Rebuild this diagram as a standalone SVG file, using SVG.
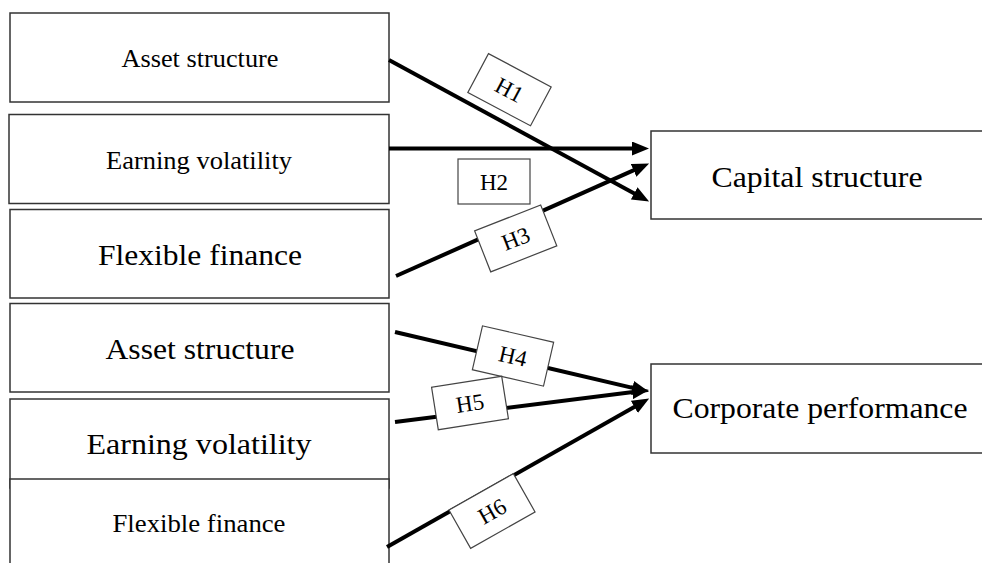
<svg xmlns="http://www.w3.org/2000/svg" width="982" height="563" viewBox="0 0 982 563">
<style>
.box{fill:#fff;stroke:#333;stroke-width:1.5}
.lbl{fill:#fff;stroke:#444;stroke-width:1.2}
.t{font-family:"Liberation Serif","Times New Roman",serif;fill:#000;text-anchor:middle}
.s{font-size:25px}
.b{font-size:29.5px}
.h{font-size:23px}
.c{stroke:#000;stroke-width:4;fill:none;marker-end:url(#ah)}
</style>
<defs>
<marker id="ah" markerUnits="userSpaceOnUse" markerWidth="17" markerHeight="14" refX="9" refY="7" orient="auto">
<path d="M0,0 L17,7 L0,14 z" fill="#000"/>
</marker>
</defs>
<rect width="982" height="563" fill="#fff"/>
<g id="n1"><rect class="box" x="10" y="13" width="379" height="89"/><text class="t s" x="200" y="67" textLength="157" lengthAdjust="spacingAndGlyphs">Asset structure</text></g>
<g id="n2"><rect class="box" x="9" y="114.5" width="380" height="89"/><text class="t s" x="199" y="169" textLength="186" lengthAdjust="spacingAndGlyphs">Earning volatility</text></g>
<g id="n3"><rect class="box" x="10" y="209.5" width="379" height="88.5"/><text class="t b" x="200" y="265" textLength="204" lengthAdjust="spacingAndGlyphs">Flexible finance</text></g>
<g id="n4"><rect class="box" x="10" y="303.5" width="379" height="88.5"/><text class="t b" x="200" y="359" textLength="189" lengthAdjust="spacingAndGlyphs">Asset structure</text></g>
<g id="n5"><rect class="box" x="10" y="399" width="379" height="89"/><text class="t b" x="199" y="454" textLength="225" lengthAdjust="spacingAndGlyphs">Earning volatility</text></g>
<g id="n6"><rect class="box" x="10" y="479" width="379" height="100"/><text class="t s" x="199" y="532" textLength="173" lengthAdjust="spacingAndGlyphs">Flexible finance</text></g>
<g id="n7"><rect class="box" x="651" y="131" width="340" height="88"/><text class="t b" x="817" y="187" textLength="211" lengthAdjust="spacingAndGlyphs">Capital structure</text></g>
<g id="n8"><rect class="box" x="651" y="364" width="340" height="89"/><text class="t b" x="820" y="418" textLength="295" lengthAdjust="spacingAndGlyphs">Corporate performance</text></g>
<g id="connectors">
<line class="c" x1="389" y1="60" x2="642.1" y2="197.7"/>
<line class="c" x1="389" y1="148.5" x2="641" y2="148.5"/>
<line class="c" x1="396" y1="276" x2="641.8" y2="166.7"/>
<line class="c" x1="395" y1="332" x2="641.2" y2="389.9"/>
<line class="c" x1="395" y1="422" x2="641.1" y2="391.1"/>
<line class="c" x1="387" y1="547" x2="642.2" y2="402.4"/>
</g>
<g id="lH1" transform="translate(509.5,89.7) rotate(28)"><rect class="lbl" x="-35.5" y="-22" width="71" height="44"/><text class="t h" x="0" y="8">H1</text></g>
<g id="lH2"><rect class="lbl" x="458" y="159" width="72" height="45"/><text class="t h" x="494" y="190">H2</text></g>
<g id="lH3" transform="translate(515.7,238.4) rotate(-21.5)"><rect class="lbl" x="-35.5" y="-22" width="71" height="44"/><text class="t h" x="0" y="8">H3</text></g>
<g id="lH4" transform="translate(513,356) rotate(13)"><rect class="lbl" x="-36.5" y="-22.5" width="73" height="45"/><text class="t h" x="0" y="8">H4</text></g>
<g id="lH5" transform="translate(470,403) rotate(-9)"><rect class="lbl" x="-35.5" y="-21.5" width="71" height="43"/><text class="t h" x="0" y="8">H5</text></g>
<g id="lH6" transform="translate(492,511) rotate(-29.5)"><rect class="lbl" x="-37" y="-22" width="74" height="44"/><text class="t h" x="0" y="8">H6</text></g>
</svg>
